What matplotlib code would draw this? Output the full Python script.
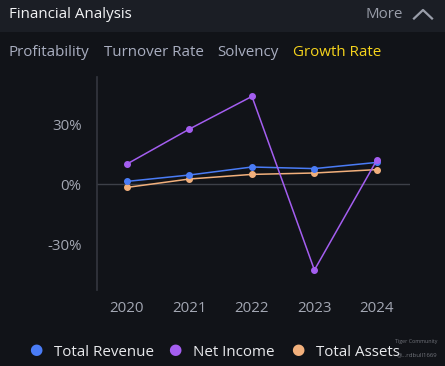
import matplotlib
matplotlib.use("Agg")
import matplotlib.pyplot as plt
from matplotlib.patches import Rectangle
from matplotlib.lines import Line2D

plt.rcParams['font.family'] = ['Open Sans', 'DejaVu Sans']

years = ["2020", "2021", "2022", "2023", "2024"]
total_revenue = [1.3, 4.5, 8.5, 7.7, 10.8]
net_income = [10.0, 27.5, 43.8, -43.0, 12.0]
total_assets = [-1.7, 2.5, 4.8, 5.5, 7.2]
y_ticks = [-30, 0, 30]
y_tick_labels = ["-30%", "0%", "30%"]
tabs = ["Profitability", "Turnover Rate", "Solvency", "Growth Rate"]
series_names = ["Total Revenue", "Net Income", "Total Assets"]

bg = "#111318"
header_bg = "#1b1e25"
colors = ["#4a7cf6", "#a45ef0", "#f2b07c"]
grey = "#a3a7b3"

W, H = 445, 366

def fx(px):
    return px / W

def fy(py):
    return 1 - py / H

fig = plt.figure(figsize=(4.45, 3.66), dpi=100, facecolor=bg)
fig.patches.append(Rectangle((0, fy(32)), 1, 32 / H, transform=fig.transFigure,
                             facecolor=header_bg, edgecolor="none", zorder=0))
fig.text(fx(9), fy(15), "Financial Analysis", color="#f2f3f5", fontsize=10.9,
         va="center", ha="left")
fig.text(fx(403), fy(15), "More", color="#9a9eaa", fontsize=10.9, va="center", ha="right")
fig.lines.append(Line2D([fx(414), fx(423), fx(432)], [fy(18.5), fy(10), fy(18.5)],
                        transform=fig.transFigure, color="#9a9eaa", lw=1.6))

tab_x = [9, 104, 217, 293]
for i, t in enumerate(tabs):
    c = "#f5d31c" if t == "Growth Rate" else "#a9aec0"
    fig.text(fx(tab_x[i]), fy(53), t, color=c, fontsize=10.9, va="center", ha="left")

ax = fig.add_axes([fx(97), fy(290), 313 / W, 213 / H])
ax.set_facecolor(bg)
x = list(range(len(years)))
for vals, c in zip([total_assets, total_revenue, net_income], [colors[2], colors[0], colors[1]]):
    ax.plot(x, vals, color=c, lw=1.1, marker="o", ms=4, zorder=3)
ax.axhline(0, color="#3d4048", lw=1, zorder=1)
ax.set_xlim(-0.48, 4.53)
ax.set_ylim(-53, 53.5)
for s in ["top", "right", "bottom"]:
    ax.spines[s].set_visible(False)
ax.spines["left"].set_color("#34373f")
ax.spines["left"].set_linewidth(1.2)
ax.set_yticks(y_ticks)
ax.set_yticklabels(y_tick_labels)
ax.set_xticks(x)
ax.set_xticklabels(years)
ax.tick_params(axis="both", length=0, colors=grey, labelsize=10.8)
ax.tick_params(axis="y", pad=11)
ax.tick_params(axis="x", pad=8)

leg_x = [36, 175, 298]
for i, name in enumerate(series_names):
    fig.text(fx(leg_x[i]), fy(351), "\u25CF", color=colors[i], fontsize=11,
             va="center", ha="center")
    fig.text(fx(leg_x[i] + 18), fy(352), name, color="#e8e9ec", fontsize=10.9,
             va="center", ha="left")

fig.text(fx(437), fy(342), "Tiger Community", color="#8a8d95", fontsize=3.8,
         va="center", ha="right", alpha=0.8)
fig.text(fx(437), fy(355), "@...rdbull1669", color="#8a8d95", fontsize=4.3,
         va="center", ha="right", alpha=0.8)

fig.savefig("out.png", dpi=100, facecolor=bg)
